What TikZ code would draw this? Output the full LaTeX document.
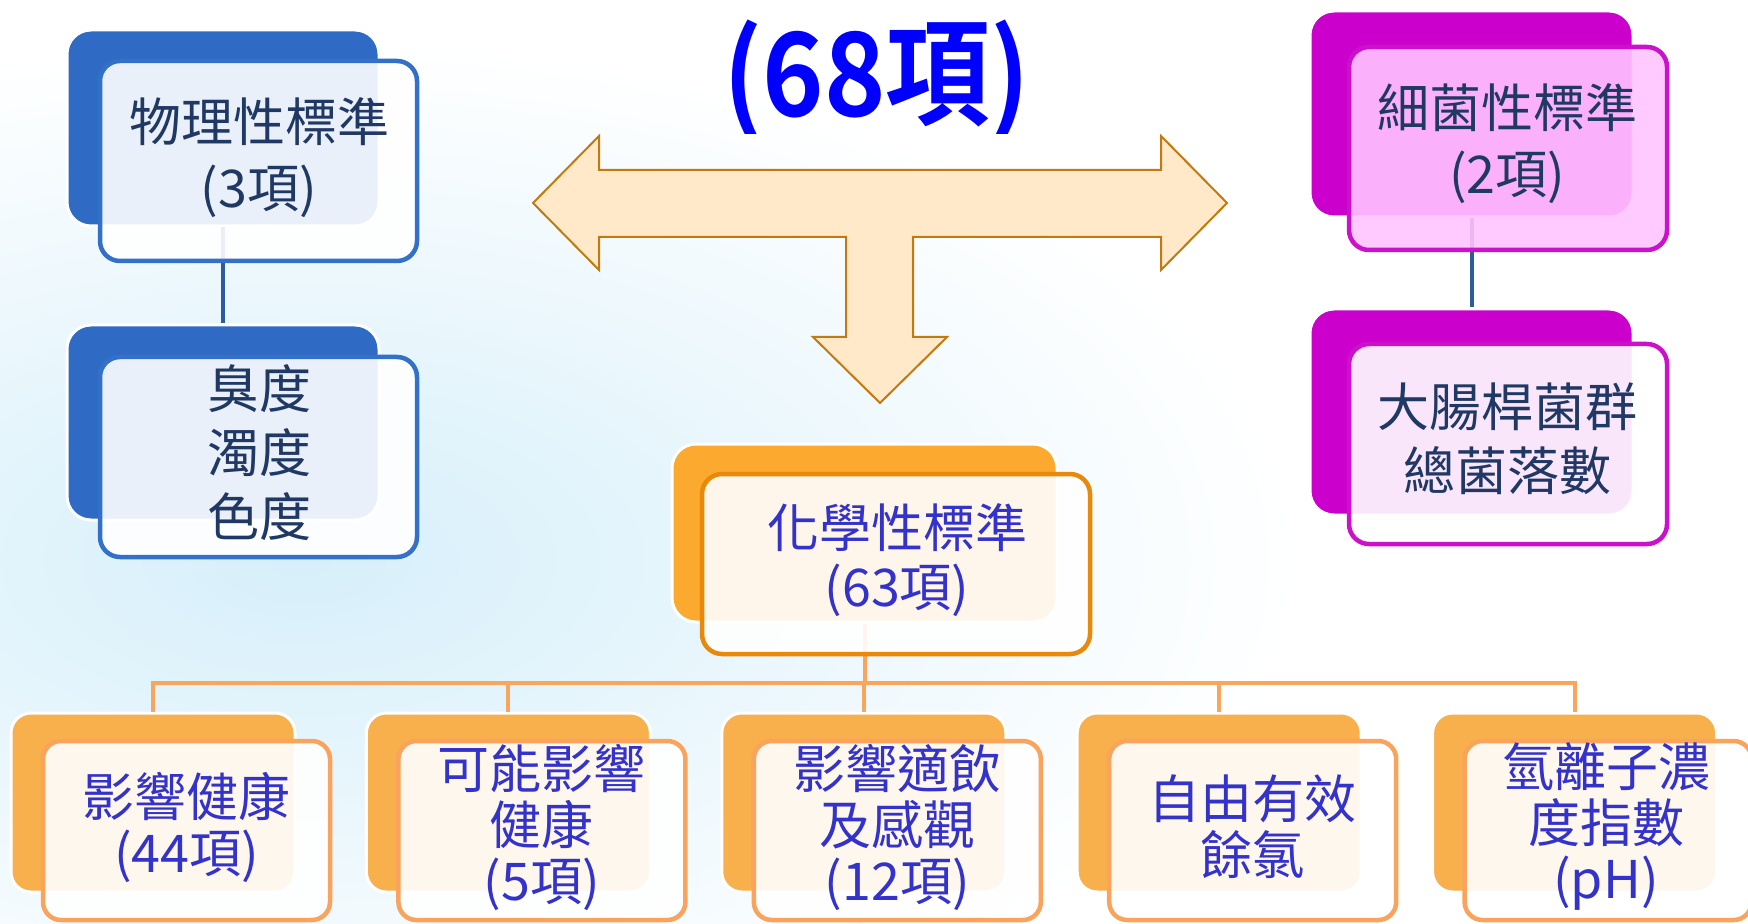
\documentclass[tikz,border=0pt]{standalone}
\usepackage{fontspec}
\newfontfamily\cjk{Noto Sans CJK TC}
\newfontfamily\cjkb{Noto Sans CJK TC Bold}
\definecolor{bgc}{HTML}{D6EFFA}
\definecolor{phback}{HTML}{2F6BC4}
\definecolor{phline}{HTML}{3370C8}
\definecolor{phconn}{HTML}{2D5C9E}
\definecolor{magback}{HTML}{CC00CC}
\definecolor{magline}{HTML}{CC11CC}
\definecolor{magfill}{HTML}{FFC4FF}
\definecolor{chback}{HTML}{FBA92F}
\definecolor{chline}{HTML}{E8890C}
\definecolor{botback}{HTML}{F7B04B}
\definecolor{botline}{HTML}{F9A35C}
\definecolor{busc}{HTML}{F9A55B}
\definecolor{navytxt}{HTML}{1F3864}
\definecolor{violettxt}{HTML}{3333CC}
\definecolor{arrfill}{HTML}{FFE9C9}
\definecolor{arrline}{HTML}{C27A10}
\definecolor{titleblue}{HTML}{0000FF}
\tikzset{
  backbox/.style={rounded corners=12pt, draw=white, line width=1.5pt, inner sep=0pt},
  frontbox/.style={rounded corners=10pt, line width=2.25pt, inner sep=0pt, fill=white, fill opacity=0.9},
  conn/.style={line width=2pt, draw=phconn},
  busline/.style={line width=2pt, draw=busc},
  toptext/.style={font={\cjk\fontsize{26pt}{33pt}\selectfont}, text=navytxt, align=center, inner sep=0pt},
  bottext/.style={font={\cjk\fontsize{26pt}{28pt}\selectfont}, text=violettxt, align=center, inner sep=0pt},
  bigarrow/.style={fill=arrfill, draw=arrline, line width=1pt, line join=miter}
}
\begin{document}
\begin{tikzpicture}[x=0.5pt,y=-0.5pt]
\useasboundingbox (0,0) rectangle (1748,924);
\clip (0,0) rectangle (1748,924);
\shade[inner color=bgc, outer color=white] (300,560) ellipse (1000 and 520);

% central three-way arrow
\draw[bigarrow] (533,203) -- (599,136) -- (599,170) -- (1161,170) -- (1161,136) -- (1227,203)
  -- (1161,270) -- (1161,237) -- (913,237) -- (913,337) -- (947,337) -- (880,403)
  -- (813,337) -- (846,337) -- (846,237) -- (599,237) -- (599,270) -- cycle;

% title
\begin{scope}
\clip (600,0) rectangle (1150,134);
\node[font={\cjkb\fontsize{58pt}{64pt}\selectfont}, text=titleblue, anchor=base, inner sep=0pt] (title) at (876.5,117) {\scalebox{0.9}[1]{(68項)}};
\end{scope}

% back boxes
\node[backbox, fill=phback, minimum width=156pt, minimum height=98pt] (ptb) at (223,128) {};
\node[backbox, fill=phback, minimum width=156pt, minimum height=97.5pt] (pbb) at (223,422.5) {};
\node[backbox, fill=magback, minimum width=161.5pt, minimum height=103pt] (mtb) at (1471.5,114) {};
\node[backbox, fill=magback, minimum width=161.5pt, minimum height=103pt] (mbb) at (1471.5,412) {};
\node[backbox, fill=chback, minimum width=192.5pt, minimum height=89pt] (cb) at (864.5,533) {};
\foreach \i in {1,...,5}{
  \node[backbox, fill=botback, rounded corners=10pt, minimum width=142pt, minimum height=89.5pt] (b\i) at ({153+355.4*(\i-1)},802.5) {};
}

% connectors
\draw[conn] (ptb.south) -- (pbb.north);
\draw[conn] (mtb.south) -- (mbb.north);
\coordinate (bus) at (864.5,683);
\draw[busline] (cb.south) -- (bus);
\draw[busline] (b1.north) |- (bus) -| (b5.north);
\foreach \k in {2,3,4}{ \draw[busline] (b\k.north) -- (b\k.north |- bus); }

% front boxes
\node[frontbox, draw=phline, minimum width=158.5pt, minimum height=100pt] (ptf) at (258.5,161) {};
\node[frontbox, draw=phline, minimum width=158.5pt, minimum height=100pt] (pbf) at (258.5,457) {};
\node[frontbox, draw=magline, fill=magfill, minimum width=159pt, minimum height=101.5pt] (mtf) at (1508,148.5) {};
\node[frontbox, draw=magline, minimum width=159pt, minimum height=100pt] (mbf) at (1508,444) {};
\node[frontbox, draw=chline, minimum width=194pt, minimum height=90pt] (cf) at (896,564) {};
\foreach \i in {1,...,5}{
  \node[frontbox, draw=botline, rounded corners=9pt, minimum width=143.5pt, minimum height=89.5pt] (f\i) at ({186.5+355.4*(\i-1)},830.5) {};
}

% texts
\node[toptext] (ptt) at (259,157.5) {物理性標準\\(3項)};
\node[toptext, font={\cjk\fontsize{26pt}{32pt}\selectfont}] (pbt) at (259,452.5) {臭度\\濁度\\色度};
\node[toptext] (mtt) at (1507,143.5) {細菌性標準\\(2項)};
\node[toptext, font={\cjk\fontsize{26pt}{32pt}\selectfont}] (mbt) at (1507,439) {大腸桿菌群\\總菌落數};
\node[bottext, font={\cjk\fontsize{26pt}{29.5pt}\selectfont}] (ct) at (897,560) {化學性標準\\(63項)};
\node[bottext] (t1) at (186.5,827) {影響健康\\(44項)};
\node[bottext] (t2) at (541.9,827) {可能影響\\健康\\(5項)};
\node[bottext] (t3) at (897.3,827) {影響適飲\\及感觀\\(12項)};
\node[bottext] (t4) at (1252.7,827) {自由有效\\餘氯};
\node[bottext] (t5) at (1606,827) {氫離子濃\\度指數\\(pH)};
\end{tikzpicture}
\end{document}
